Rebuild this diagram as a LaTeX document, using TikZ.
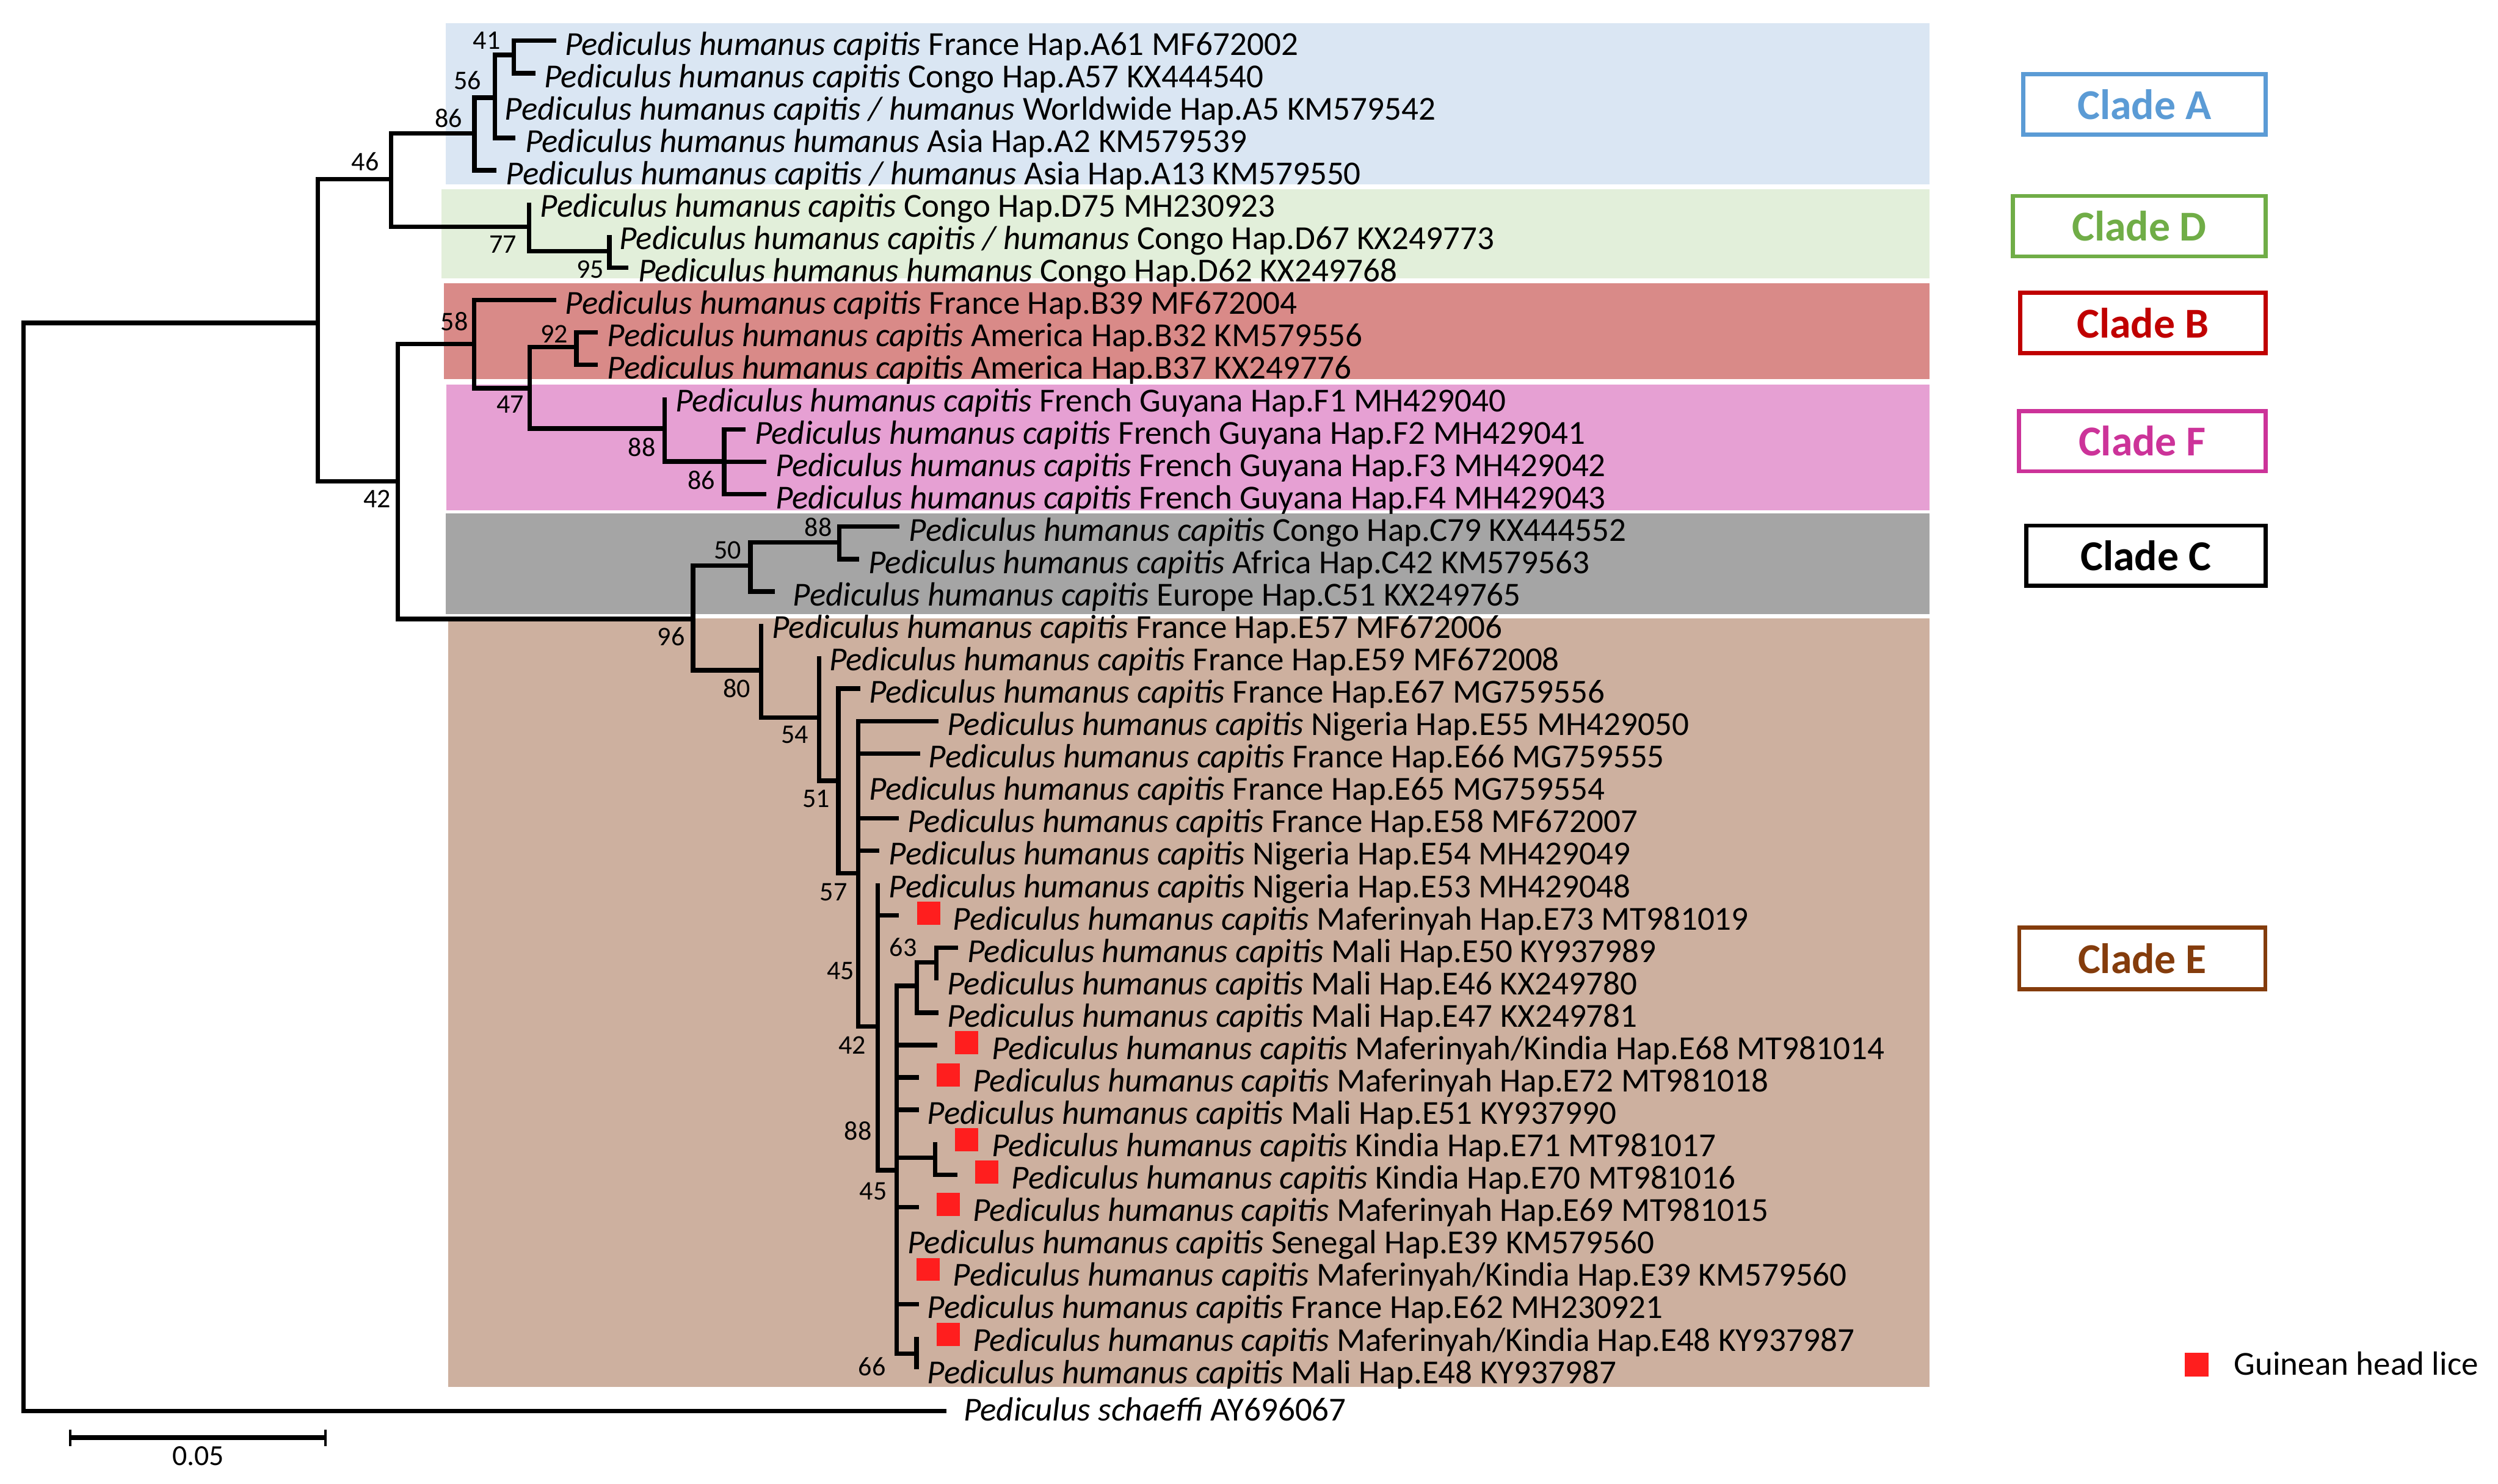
\documentclass[tikz,border=0pt]{standalone}
\usepackage{fontspec}
\setmainfont{Carlito}
\newcommand\phc{\textit{Pediculus humanus capitis}}
\newcommand\phch{\textit{Pediculus humanus capitis / humanus}}
\newcommand\phh{\textit{Pediculus humanus humanus}}
\definecolor{cA}{HTML}{DAE6F3}
\definecolor{cD}{HTML}{E2EFDA}
\definecolor{cB}{HTML}{D98A88}
\definecolor{cF}{HTML}{E6A0D3}
\definecolor{cC}{HTML}{A5A5A5}
\definecolor{cE}{HTML}{CDB09F}
\definecolor{kA}{HTML}{5B9BD5}
\definecolor{kD}{HTML}{70AD47}
\definecolor{kB}{HTML}{C00000}
\definecolor{kF}{HTML}{CC3399}
\definecolor{kE}{HTML}{843C0C}
\definecolor{gred}{HTML}{FF1E1E}
\begin{document}
\begin{tikzpicture}[x=0.025cm,y=-0.025cm,
  br/.style={line width=2.0pt},
  lab/.style={anchor=base west,inner sep=0pt,font=\fontsize{15}{18}\selectfont},
  bs/.style={inner sep=0pt,font=\fontsize{12}{14}\selectfont},
  clade/.style={draw,line width=1.85pt,inner sep=0pt,minimum height=0.9475cm,font=\fontsize{19}{22}\selectfont\bfseries},
  sq/.style={fill=gred,inner sep=0pt,minimum size=0.3625cm}]
\useasboundingbox (0,0) rectangle (1568,931.7);
% clade backgrounds
\fill[cA] (279.8,14.4) rectangle (1211.2,115.6);
\fill[cD] (277.2,119) rectangle (1211.2,174.7);
\fill[cB] (278.6,178) rectangle (1211.2,238.2);
\fill[cF] (280.1,241.6) rectangle (1211.2,320.3);
\fill[cC] (279.7,322.5) rectangle (1211.2,385.5);
\fill[cE] (281.2,388.3) rectangle (1211.2,870.7);
% internal nodes
\coordinate (root) at (14.7,544);
\coordinate (X1) at (199.4,202.7);
\coordinate (n46) at (245.6,112.6);
\coordinate (n86) at (297.8,83.7);
\coordinate (n56) at (310.6,61.3);
\coordinate (n41) at (322.6,34.5);
\coordinate (n77) at (332,142.5);
\coordinate (n95) at (382.5,157.8);
\coordinate (n42) at (249.6,302.1);
\coordinate (n58) at (297.7,215.9);
\coordinate (n47) at (332.5,243.8);
\coordinate (n92) at (361.8,217.8);
\coordinate (n88F) at (417.2,269.1);
\coordinate (n86F) at (454.6,289.7);
\coordinate (n96) at (435,388.7);
\coordinate (n50) at (471.1,355);
\coordinate (n88C) at (526.8,340.5);
\coordinate (n80) at (477.8,420.8);
\coordinate (n54) at (514.1,450.6);
\coordinate (n51) at (526.2,490.2);
\coordinate (n57) at (538.8,548.2);
\coordinate (n42b) at (550.9,644.5);
\coordinate (n45b) at (562.8,734.7);
\coordinate (nX) at (575.4,619);
\coordinate (n63) at (587.7,604.3);
\coordinate (n35) at (587,726.8);
\coordinate (n66) at (575.3,850);
% tips
\coordinate (t1) at (349.1,25.6);
\coordinate (t2) at (336.3,45.94);
\coordinate (t3) at (310.6,66.28);
\coordinate (t4) at (323.4,86.62);
\coordinate (t5) at (311.5,106.96);
\coordinate (t6) at (332,127.3);
\coordinate (t7) at (382.5,147.64);
\coordinate (t8) at (394.4,167.98);
\coordinate (t9) at (349,188.32);
\coordinate (t10) at (375.4,208.66);
\coordinate (t11) at (375.4,229);
\coordinate (t12) at (417.2,249.34);
\coordinate (t13) at (467.8,269.68);
\coordinate (t14) at (481,290.02);
\coordinate (t15) at (481,310.36);
\coordinate (t16) at (564.7,330.7);
\coordinate (t17) at (539.2,351.04);
\coordinate (t18) at (486.5,371.38);
\coordinate (t19) at (477.8,391.72);
\coordinate (t20) at (514.1,412.06);
\coordinate (t21) at (540.1,432.4);
\coordinate (t22) at (589.2,452.74);
\coordinate (t23) at (577.5,473.08);
\coordinate (t24) at (538.8,493.42);
\coordinate (t25) at (564.3,513.76);
\coordinate (t26) at (551.8,534.1);
\coordinate (t27) at (550.9,554.44);
\coordinate (t28) at (564.3,574.78);
\coordinate (t29) at (601.4,595.12);
\coordinate (t30) at (587.7,615.46);
\coordinate (t31) at (589,635.8);
\coordinate (t32) at (588.5,656.14);
\coordinate (t33) at (576.8,676.48);
\coordinate (t34) at (576.8,696.82);
\coordinate (t35) at (587,717.16);
\coordinate (t36) at (601,737.5);
\coordinate (t37) at (576.8,757.84);
\coordinate (t38) at (562.8,778.18);
\coordinate (t39) at (562.8,798.52);
\coordinate (t40) at (576.8,818.86);
\coordinate (t41) at (575.3,839.2);
\coordinate (t42) at (575.3,859.54);
\coordinate (t43) at (594,886);
% branches
\draw[br] (root) |- (X1) (root) |- (t43);
\draw[br] (X1) |- (n46) (X1) |- (n42);
\draw[br] (n46) |- (n86) (n46) |- (n77);
\draw[br] (n86) |- (n56) (n86) |- (t5);
\draw[br] (n56) |- (n41) (n56) |- (t3) (n56) |- (t4);
\draw[br] (n41) |- (t1) (n41) |- (t2);
\draw[br] (n77) |- (t6) (n77) |- (n95);
\draw[br] (n95) |- (t7) (n95) |- (t8);
\draw[br] (n42) |- (n58) (n42) |- (n96);
\draw[br] (n58) |- (t9) (n58) |- (n47);
\draw[br] (n47) |- (n92) (n47) |- (n88F);
\draw[br] (n92) |- (t10) (n92) |- (t11);
\draw[br] (n88F) |- (t12) (n88F) |- (n86F);
\draw[br] (n86F) |- (t13) (n86F) |- (t14) (n86F) |- (t15);
\draw[br] (n96) |- (n50) (n96) |- (n80);
\draw[br] (n50) |- (n88C) (n50) |- (t18);
\draw[br] (n88C) |- (t16) (n88C) |- (t17);
\draw[br] (n80) |- (t19) (n80) |- (n54);
\draw[br] (n54) |- (t20) (n54) |- (n51);
\draw[br] (n51) |- (t21) (n51) |- (n57);
\draw[br] (n57) |- (t22) (n57) |- (t23) (n57) |- (t24) (n57) |- (t25) (n57) |- (t26) (n57) |- (n42b);
\draw[br] (n42b) |- (t27) (n42b) |- (t28) (n42b) |- (n45b);
\draw[br] (n45b) |- (nX) (n45b) |- (t32) (n45b) |- (t33) (n45b) |- (t34) (n45b) |- (n35) (n45b) |- (t37) (n45b) |- (t38) (n45b) |- (t39) (n45b) |- (t40) (n45b) |- (n66);
\draw[br] (nX) |- (n63) (nX) |- (t31);
\draw[br] (n63) |- (t29) (n63) |- (t30);
\draw[br] (n35) |- (t35) (n35) |- (t36);
\draw[br] (n66) |- (t41) (n66) |- (t42);
% tip labels
\node[lab] (l1) at (354.3,34.6) {\phc{} France Hap.A61 MF672002};
\node[lab] (l2) at (341.4,54.94) {\phc{} Congo Hap.A57 KX444540};
\node[lab] (l3) at (316.6,75.28) {\phch{} Worldwide Hap.A5 KM579542};
\node[lab] (l4) at (329.4,95.62) {\phh{} Asia Hap.A2 KM579539};
\node[lab] (l5) at (317.4,115.96) {\phch{} Asia Hap.A13 KM579550};
\node[lab] (l6) at (338.8,136.3) {\phc{} Congo Hap.D75 MH230923};
\node[lab] (l7) at (388.5,156.64) {\phch{} Congo Hap.D67 KX249773};
\node[lab] (l8) at (400.4,176.98) {\phh{} Congo Hap.D62 KX249768};
\node[lab] (l9) at (354.5,197.32) {\phc{} France Hap.B39 MF672004};
\node[lab] (l10) at (381,217.66) {\phc{} America Hap.B32 KM579556};
\node[lab] (l11) at (381,238) {\phc{} America Hap.B37 KX249776};
\node[lab] (l12) at (423.8,258.34) {\phc{} French Guyana Hap.F1 MH429040};
\node[lab] (l13) at (473.5,278.68) {\phc{} French Guyana Hap.F2 MH429041};
\node[lab] (l14) at (486.5,299.02) {\phc{} French Guyana Hap.F3 MH429042};
\node[lab] (l15) at (486.5,319.36) {\phc{} French Guyana Hap.F4 MH429043};
\node[lab] (l16) at (570.4,339.7) {\phc{} Congo Hap.C79 KX444552};
\node[lab] (l17) at (544.9,360.04) {\phc{} Africa Hap.C42 KM579563};
\node[lab] (l18) at (497.5,380.38) {\phc{} Europe Hap.C51 KX249765};
\node[lab] (l19) at (484.4,400.72) {\phc{} France Hap.E57 MF672006};
\node[lab] (l20) at (520.3,421.06) {\phc{} France Hap.E59 MF672008};
\node[lab] (l21) at (545.2,441.4) {\phc{} France Hap.E67 MG759556};
\node[lab] (l22) at (594.4,461.74) {\phc{} Nigeria Hap.E55 MH429050};
\node[lab] (l23) at (582.6,482.08) {\phc{} France Hap.E66 MG759555};
\node[lab] (l24) at (545.2,502.42) {\phc{} France Hap.E65 MG759554};
\node[lab] (l25) at (569.5,522.76) {\phc{} France Hap.E58 MF672007};
\node[lab] (l26) at (557.7,543.1) {\phc{} Nigeria Hap.E54 MH429049};
\node[lab] (l27) at (557.7,563.44) {\phc{} Nigeria Hap.E53 MH429048};
\node[lab] (l28) at (598,583.78) {\phc{} Maferinyah Hap.E73 MT981019};
\node[lab] (l29) at (607,604.12) {\phc{} Mali Hap.E50 KY937989};
\node[lab] (l30) at (594.4,624.46) {\phc{} Mali Hap.E46 KX249780};
\node[lab] (l31) at (594.5,644.8) {\phc{} Mali Hap.E47 KX249781};
\node[lab] (l32) at (622.2,665.14) {\phc{} Maferinyah/Kindia Hap.E68 MT981014};
\node[lab] (l33) at (610.5,685.48) {\phc{} Maferinyah Hap.E72 MT981018};
\node[lab] (l34) at (581.9,705.82) {\phc{} Mali Hap.E51 KY937990};
\node[lab] (l35) at (622.2,726.16) {\phc{} Kindia Hap.E71 MT981017};
\node[lab] (l36) at (634.7,746.5) {\phc{} Kindia Hap.E70 MT981016};
\node[lab] (l37) at (610.5,766.84) {\phc{} Maferinyah Hap.E69 MT981015};
\node[lab] (l38) at (569.5,787.18) {\phc{} Senegal Hap.E39 KM579560};
\node[lab] (l39) at (598,807.52) {\phc{} Maferinyah/Kindia Hap.E39 KM579560};
\node[lab] (l40) at (581.9,827.86) {\phc{} France Hap.E62 MH230921};
\node[lab] (l41) at (610.5,848.2) {\phc{} Maferinyah/Kindia Hap.E48 KY937987};
\node[lab] (l42) at (581.9,868.54) {\phc{} Mali Hap.E48 KY937987};
\node[lab] (l43) at (604.6,892) {\textit{Pediculus schaeffi} AY696067};
% Guinean markers
\node[sq] (g28) at (583,573.3) {};
\node[sq] (g32) at (606.8,654.6) {};
\node[sq] (g33) at (595.1,675) {};
\node[sq] (g35) at (606.8,715.7) {};
\node[sq] (g36) at (619.3,736) {};
\node[sq] (g37) at (595.1,756.3) {};
\node[sq] (g39) at (582.6,797) {};
\node[sq] (g41) at (595.1,837.7) {};
% bootstrap values
\node[bs] (b1) at (305.5,25.6) {41};
\node[bs] (b2) at (293.5,50.5) {56};
\node[bs] (b3) at (281.5,74.1) {86};
\node[bs] (b4) at (229.3,101.6) {46};
\node[bs] (b5) at (315.7,153.3) {77};
\node[bs] (b6) at (370.5,169.3) {95};
\node[bs] (b7) at (285.2,201.7) {58};
\node[bs] (b8) at (347.9,209.7) {92};
\node[bs] (b9) at (320.4,253.7) {47};
\node[bs] (b10) at (402.9,280.9) {88};
\node[bs] (b11) at (440.3,301.4) {86};
\node[bs] (b12) at (236.8,313.1) {42};
\node[bs] (b13) at (456.8,345.4) {50};
\node[bs] (b14) at (513.6,330.9) {88};
\node[bs] (b15) at (421.3,399.8) {96};
\node[bs] (b16) at (462.4,432.1) {80};
\node[bs] (b17) at (499,461.2) {54};
\node[bs] (b18) at (512.2,501.5) {51};
\node[bs] (b19) at (523.2,560.3) {57};
\node[bs] (b20) at (527.6,609.6) {45};
\node[bs] (b21) at (566.9,594.9) {63};
\node[bs] (b22) at (535,656.4) {42};
\node[bs] (b23) at (538.6,710.1) {88};
\node[bs] (b24) at (548.2,747.9) {45};
\node[bs] (b25) at (547.4,857.9) {66};
% clade labels
\node[clade,draw=kA,text=kA,minimum width=3.8cm] (cla) at (1346,65.55) {Clade A};
\node[clade,draw=kD,text=kD,minimum width=3.96cm] (cld) at (1342.8,142) {Clade D};
\node[clade,draw=kB,text=kB,minimum width=3.8475cm] (clb) at (1345.05,202.75) {Clade B};
\node[clade,draw=kF,text=kF,minimum width=3.865cm] (clf) at (1344.7,276.95) {Clade F};
\node[clade,draw=black,text=black,minimum width=3.7525cm] (clc) at (1346.95,348.95) {Clade C};
\node[clade,draw=kE,text=kE,minimum width=3.86cm,minimum height=0.97cm] (cle) at (1344.7,601.7) {Clade E};
% legend
\node[sq,minimum size=0.375cm] (lgs) at (1379,856.7) {};
\node[lab] (lgt) at (1402,863.2) {Guinean head lice};
% scale bar
\coordinate (s1) at (44,902.7);
\coordinate (s2) at (204.3,902.7);
\draw[line width=2.3pt] (s1) -- (s2);
\draw[line width=1.1pt] ([yshift=0.1275cm]s1) -- ([yshift=-0.1275cm]s1);
\draw[line width=1.1pt] ([yshift=0.1275cm]s2) -- ([yshift=-0.1275cm]s2);
\node[inner sep=0pt,font=\fontsize{13}{15}\selectfont] (sl) at (124.4,914.2) {0.05};
\end{tikzpicture}
\end{document}
